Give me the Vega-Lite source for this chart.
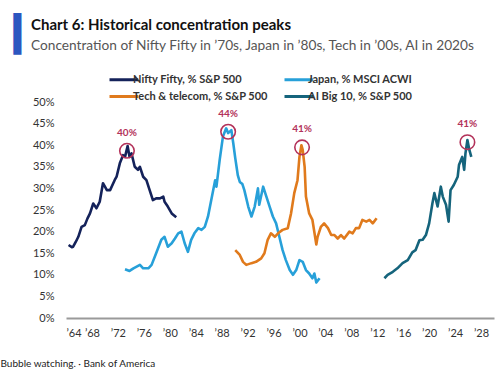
{
  "$schema": "https://vega.github.io/schema/vega-lite/v6.json",
  "width": 428,
  "height": 216,
  "autosize": {"type": "none"},
  "padding": {"left": 66, "top": 102, "right": 6, "bottom": 53},
  "background": "white",
  "title": {
    "text": "Chart 6: Historical concentration peaks",
    "subtitle": "Concentration of Nifty Fifty in ’70s, Japan in ’80s, Tech in ’00s, AI in 2020s",
    "anchor": "start",
    "frame": "group",
    "dx": -35,
    "offset": -36,
    "font": "Lato",
    "fontSize": 15,
    "fontWeight": "bold",
    "color": "#111111",
    "subtitleFont": "Lato",
    "subtitleFontSize": 13.7,
    "subtitleColor": "#555555",
    "subtitlePadding": 6
  },
  "datasets": {
    "series": [
      {"series": "Nifty Fifty, % S&P 500", "year": 1964.4, "value": 16.9},
      {"series": "Nifty Fifty, % S&P 500", "year": 1964.9, "value": 16.4},
      {"series": "Nifty Fifty, % S&P 500", "year": 1965.1, "value": 16.5},
      {"series": "Nifty Fifty, % S&P 500", "year": 1965.5, "value": 17.6},
      {"series": "Nifty Fifty, % S&P 500", "year": 1965.9, "value": 18.8},
      {"series": "Nifty Fifty, % S&P 500", "year": 1966.4, "value": 21.1},
      {"series": "Nifty Fifty, % S&P 500", "year": 1966.9, "value": 21.5},
      {"series": "Nifty Fifty, % S&P 500", "year": 1967.3, "value": 23.0},
      {"series": "Nifty Fifty, % S&P 500", "year": 1967.7, "value": 24.2},
      {"series": "Nifty Fifty, % S&P 500", "year": 1968.2, "value": 26.5},
      {"series": "Nifty Fifty, % S&P 500", "year": 1968.7, "value": 25.4},
      {"series": "Nifty Fifty, % S&P 500", "year": 1969.2, "value": 26.9},
      {"series": "Nifty Fifty, % S&P 500", "year": 1969.7, "value": 31.2},
      {"series": "Nifty Fifty, % S&P 500", "year": 1970.3, "value": 29.6},
      {"series": "Nifty Fifty, % S&P 500", "year": 1970.8, "value": 29.6},
      {"series": "Nifty Fifty, % S&P 500", "year": 1971.5, "value": 31.9},
      {"series": "Nifty Fifty, % S&P 500", "year": 1971.8, "value": 32.7},
      {"series": "Nifty Fifty, % S&P 500", "year": 1972.3, "value": 35.8},
      {"series": "Nifty Fifty, % S&P 500", "year": 1972.8, "value": 37.7},
      {"series": "Nifty Fifty, % S&P 500", "year": 1973.1, "value": 37.3},
      {"series": "Nifty Fifty, % S&P 500", "year": 1973.5, "value": 39.8},
      {"series": "Nifty Fifty, % S&P 500", "year": 1973.8, "value": 37.3},
      {"series": "Nifty Fifty, % S&P 500", "year": 1974.1, "value": 38.1},
      {"series": "Nifty Fifty, % S&P 500", "year": 1974.6, "value": 35.0},
      {"series": "Nifty Fifty, % S&P 500", "year": 1975.1, "value": 34.3},
      {"series": "Nifty Fifty, % S&P 500", "year": 1975.4, "value": 35.0},
      {"series": "Nifty Fifty, % S&P 500", "year": 1975.9, "value": 32.7},
      {"series": "Nifty Fifty, % S&P 500", "year": 1976.4, "value": 31.9},
      {"series": "Nifty Fifty, % S&P 500", "year": 1976.9, "value": 29.6},
      {"series": "Nifty Fifty, % S&P 500", "year": 1977.4, "value": 27.3},
      {"series": "Nifty Fifty, % S&P 500", "year": 1977.9, "value": 27.7},
      {"series": "Nifty Fifty, % S&P 500", "year": 1978.5, "value": 27.7},
      {"series": "Nifty Fifty, % S&P 500", "year": 1979.0, "value": 28.1},
      {"series": "Nifty Fifty, % S&P 500", "year": 1979.2, "value": 26.9},
      {"series": "Nifty Fifty, % S&P 500", "year": 1979.7, "value": 25.8},
      {"series": "Nifty Fifty, % S&P 500", "year": 1980.3, "value": 24.2},
      {"series": "Nifty Fifty, % S&P 500", "year": 1981.0, "value": 23.3},

      {"series": "Japan, % MSCI ACWI", "year": 1973.1, "value": 11.3},
      {"series": "Japan, % MSCI ACWI", "year": 1973.8, "value": 10.9},
      {"series": "Japan, % MSCI ACWI", "year": 1974.4, "value": 11.5},
      {"series": "Japan, % MSCI ACWI", "year": 1974.9, "value": 11.9},
      {"series": "Japan, % MSCI ACWI", "year": 1975.4, "value": 12.3},
      {"series": "Japan, % MSCI ACWI", "year": 1975.9, "value": 11.5},
      {"series": "Japan, % MSCI ACWI", "year": 1976.7, "value": 11.5},
      {"series": "Japan, % MSCI ACWI", "year": 1977.2, "value": 12.3},
      {"series": "Japan, % MSCI ACWI", "year": 1977.9, "value": 15.0},
      {"series": "Japan, % MSCI ACWI", "year": 1978.7, "value": 18.1},
      {"series": "Japan, % MSCI ACWI", "year": 1979.2, "value": 18.8},
      {"series": "Japan, % MSCI ACWI", "year": 1979.7, "value": 16.5},
      {"series": "Japan, % MSCI ACWI", "year": 1980.3, "value": 17.3},
      {"series": "Japan, % MSCI ACWI", "year": 1980.8, "value": 18.4},
      {"series": "Japan, % MSCI ACWI", "year": 1981.3, "value": 19.6},
      {"series": "Japan, % MSCI ACWI", "year": 1981.8, "value": 20.0},
      {"series": "Japan, % MSCI ACWI", "year": 1982.3, "value": 17.3},
      {"series": "Japan, % MSCI ACWI", "year": 1982.8, "value": 15.3},
      {"series": "Japan, % MSCI ACWI", "year": 1983.3, "value": 18.1},
      {"series": "Japan, % MSCI ACWI", "year": 1983.8, "value": 19.6},
      {"series": "Japan, % MSCI ACWI", "year": 1984.4, "value": 20.8},
      {"series": "Japan, % MSCI ACWI", "year": 1984.9, "value": 20.4},
      {"series": "Japan, % MSCI ACWI", "year": 1985.4, "value": 21.1},
      {"series": "Japan, % MSCI ACWI", "year": 1985.9, "value": 23.5},
      {"series": "Japan, % MSCI ACWI", "year": 1986.4, "value": 27.3},
      {"series": "Japan, % MSCI ACWI", "year": 1987.0, "value": 31.9},
      {"series": "Japan, % MSCI ACWI", "year": 1987.2, "value": 30.4},
      {"series": "Japan, % MSCI ACWI", "year": 1987.7, "value": 36.6},
      {"series": "Japan, % MSCI ACWI", "year": 1988.2, "value": 42.0},
      {"series": "Japan, % MSCI ACWI", "year": 1988.7, "value": 43.9},
      {"series": "Japan, % MSCI ACWI", "year": 1989.0, "value": 42.8},
      {"series": "Japan, % MSCI ACWI", "year": 1989.5, "value": 43.5},
      {"series": "Japan, % MSCI ACWI", "year": 1989.8, "value": 40.4},
      {"series": "Japan, % MSCI ACWI", "year": 1990.1, "value": 37.0},
      {"series": "Japan, % MSCI ACWI", "year": 1990.5, "value": 33.0},
      {"series": "Japan, % MSCI ACWI", "year": 1990.8, "value": 31.5},
      {"series": "Japan, % MSCI ACWI", "year": 1991.2, "value": 31.0},
      {"series": "Japan, % MSCI ACWI", "year": 1991.5, "value": 29.6},
      {"series": "Japan, % MSCI ACWI", "year": 1992.1, "value": 25.8},
      {"series": "Japan, % MSCI ACWI", "year": 1992.6, "value": 23.5},
      {"series": "Japan, % MSCI ACWI", "year": 1993.1, "value": 25.8},
      {"series": "Japan, % MSCI ACWI", "year": 1993.6, "value": 30.0},
      {"series": "Japan, % MSCI ACWI", "year": 1993.8, "value": 26.2},
      {"series": "Japan, % MSCI ACWI", "year": 1994.4, "value": 30.4},
      {"series": "Japan, % MSCI ACWI", "year": 1994.9, "value": 28.1},
      {"series": "Japan, % MSCI ACWI", "year": 1995.4, "value": 25.8},
      {"series": "Japan, % MSCI ACWI", "year": 1995.9, "value": 23.5},
      {"series": "Japan, % MSCI ACWI", "year": 1996.4, "value": 21.9},
      {"series": "Japan, % MSCI ACWI", "year": 1996.9, "value": 18.8},
      {"series": "Japan, % MSCI ACWI", "year": 1997.4, "value": 15.7},
      {"series": "Japan, % MSCI ACWI", "year": 1997.9, "value": 13.4},
      {"series": "Japan, % MSCI ACWI", "year": 1998.5, "value": 11.1},
      {"series": "Japan, % MSCI ACWI", "year": 1999.0, "value": 10.0},
      {"series": "Japan, % MSCI ACWI", "year": 1999.5, "value": 11.1},
      {"series": "Japan, % MSCI ACWI", "year": 2000.0, "value": 13.4},
      {"series": "Japan, % MSCI ACWI", "year": 2000.5, "value": 13.0},
      {"series": "Japan, % MSCI ACWI", "year": 2001.0, "value": 11.1},
      {"series": "Japan, % MSCI ACWI", "year": 2001.5, "value": 10.3},
      {"series": "Japan, % MSCI ACWI", "year": 2002.0, "value": 9.2},
      {"series": "Japan, % MSCI ACWI", "year": 2002.3, "value": 10.3},
      {"series": "Japan, % MSCI ACWI", "year": 2002.6, "value": 8.2},
      {"series": "Japan, % MSCI ACWI", "year": 2003.1, "value": 9.2},

      {"series": "Tech & telecom, % S&P 500", "year": 1990.1, "value": 15.7},
      {"series": "Tech & telecom, % S&P 500", "year": 1990.8, "value": 14.6},
      {"series": "Tech & telecom, % S&P 500", "year": 1991.3, "value": 13.0},
      {"series": "Tech & telecom, % S&P 500", "year": 1991.8, "value": 12.3},
      {"series": "Tech & telecom, % S&P 500", "year": 1992.6, "value": 12.7},
      {"series": "Tech & telecom, % S&P 500", "year": 1993.3, "value": 13.0},
      {"series": "Tech & telecom, % S&P 500", "year": 1994.1, "value": 13.8},
      {"series": "Tech & telecom, % S&P 500", "year": 1994.6, "value": 15.0},
      {"series": "Tech & telecom, % S&P 500", "year": 1995.1, "value": 18.1},
      {"series": "Tech & telecom, % S&P 500", "year": 1995.6, "value": 19.6},
      {"series": "Tech & telecom, % S&P 500", "year": 1996.2, "value": 18.8},
      {"series": "Tech & telecom, % S&P 500", "year": 1996.7, "value": 19.6},
      {"series": "Tech & telecom, % S&P 500", "year": 1997.4, "value": 20.4},
      {"series": "Tech & telecom, % S&P 500", "year": 1998.2, "value": 20.8},
      {"series": "Tech & telecom, % S&P 500", "year": 1998.7, "value": 24.2},
      {"series": "Tech & telecom, % S&P 500", "year": 1999.2, "value": 28.9},
      {"series": "Tech & telecom, % S&P 500", "year": 1999.7, "value": 31.9},
      {"series": "Tech & telecom, % S&P 500", "year": 2000.0, "value": 37.3},
      {"series": "Tech & telecom, % S&P 500", "year": 2000.3, "value": 40.0},
      {"series": "Tech & telecom, % S&P 500", "year": 2000.5, "value": 38.9},
      {"series": "Tech & telecom, % S&P 500", "year": 2000.8, "value": 35.0},
      {"series": "Tech & telecom, % S&P 500", "year": 2001.0, "value": 28.1},
      {"series": "Tech & telecom, % S&P 500", "year": 2001.5, "value": 24.2},
      {"series": "Tech & telecom, % S&P 500", "year": 2002.0, "value": 22.7},
      {"series": "Tech & telecom, % S&P 500", "year": 2002.6, "value": 17.0},
      {"series": "Tech & telecom, % S&P 500", "year": 2002.8, "value": 18.8},
      {"series": "Tech & telecom, % S&P 500", "year": 2003.3, "value": 21.1},
      {"series": "Tech & telecom, % S&P 500", "year": 2003.8, "value": 21.9},
      {"series": "Tech & telecom, % S&P 500", "year": 2004.4, "value": 20.8},
      {"series": "Tech & telecom, % S&P 500", "year": 2004.9, "value": 19.2},
      {"series": "Tech & telecom, % S&P 500", "year": 2005.4, "value": 19.2},
      {"series": "Tech & telecom, % S&P 500", "year": 2005.9, "value": 18.4},
      {"series": "Tech & telecom, % S&P 500", "year": 2006.4, "value": 19.2},
      {"series": "Tech & telecom, % S&P 500", "year": 2006.9, "value": 18.4},
      {"series": "Tech & telecom, % S&P 500", "year": 2007.7, "value": 20.0},
      {"series": "Tech & telecom, % S&P 500", "year": 2008.2, "value": 19.6},
      {"series": "Tech & telecom, % S&P 500", "year": 2008.7, "value": 20.8},
      {"series": "Tech & telecom, % S&P 500", "year": 2009.2, "value": 20.8},
      {"series": "Tech & telecom, % S&P 500", "year": 2009.7, "value": 22.7},
      {"series": "Tech & telecom, % S&P 500", "year": 2010.3, "value": 22.3},
      {"series": "Tech & telecom, % S&P 500", "year": 2010.8, "value": 22.7},
      {"series": "Tech & telecom, % S&P 500", "year": 2011.3, "value": 21.9},
      {"series": "Tech & telecom, % S&P 500", "year": 2011.9, "value": 23.1},

      {"series": "AI Big 10, % S&P 500", "year": 2013.1, "value": 9.2},
      {"series": "AI Big 10, % S&P 500", "year": 2013.6, "value": 10.0},
      {"series": "AI Big 10, % S&P 500", "year": 2014.4, "value": 10.7},
      {"series": "AI Big 10, % S&P 500", "year": 2015.1, "value": 11.5},
      {"series": "AI Big 10, % S&P 500", "year": 2015.9, "value": 12.7},
      {"series": "AI Big 10, % S&P 500", "year": 2016.7, "value": 13.4},
      {"series": "AI Big 10, % S&P 500", "year": 2017.4, "value": 15.2},
      {"series": "AI Big 10, % S&P 500", "year": 2017.9, "value": 15.7},
      {"series": "AI Big 10, % S&P 500", "year": 2018.5, "value": 18.0},
      {"series": "AI Big 10, % S&P 500", "year": 2019.0, "value": 18.1},
      {"series": "AI Big 10, % S&P 500", "year": 2019.5, "value": 19.2},
      {"series": "AI Big 10, % S&P 500", "year": 2020.0, "value": 21.9},
      {"series": "AI Big 10, % S&P 500", "year": 2020.5, "value": 26.5},
      {"series": "AI Big 10, % S&P 500", "year": 2020.8, "value": 28.9},
      {"series": "AI Big 10, % S&P 500", "year": 2021.3, "value": 25.8},
      {"series": "AI Big 10, % S&P 500", "year": 2021.8, "value": 30.4},
      {"series": "AI Big 10, % S&P 500", "year": 2022.1, "value": 28.1},
      {"series": "AI Big 10, % S&P 500", "year": 2022.6, "value": 26.2},
      {"series": "AI Big 10, % S&P 500", "year": 2023.0, "value": 22.3},
      {"series": "AI Big 10, % S&P 500", "year": 2023.3, "value": 29.6},
      {"series": "AI Big 10, % S&P 500", "year": 2023.8, "value": 30.8},
      {"series": "AI Big 10, % S&P 500", "year": 2024.4, "value": 32.7},
      {"series": "AI Big 10, % S&P 500", "year": 2024.6, "value": 35.4},
      {"series": "AI Big 10, % S&P 500", "year": 2025.1, "value": 37.3},
      {"series": "AI Big 10, % S&P 500", "year": 2025.4, "value": 34.3},
      {"series": "AI Big 10, % S&P 500", "year": 2025.6, "value": 38.1},
      {"series": "AI Big 10, % S&P 500", "year": 2025.9, "value": 41.2},
      {"series": "AI Big 10, % S&P 500", "year": 2026.2, "value": 38.9},
      {"series": "AI Big 10, % S&P 500", "year": 2026.5, "value": 37.3}
    ],
    "peaks": [
      {"year": 1973.4, "value": 38.7, "label": "40%"},
      {"year": 1989.0, "value": 43.1, "label": "44%"},
      {"year": 2000.4, "value": 39.5, "label": "41%"},
      {"year": 2025.9, "value": 40.7, "label": "41%"}
    ]
  },
  "encoding": {
    "x": {
      "field": "year", "type": "quantitative",
      "scale": {"domain": [1964, 2030], "nice": false, "zero": false},
      "axis": {
        "values": [1964, 1968, 1972, 1976, 1980, 1984, 1988, 1992, 1996, 2000, 2004, 2008, 2012, 2016, 2020, 2024, 2028],
        "labelExpr": "'’' + slice(format(datum.value, 'd'), 2)",
        "labelOverlap": false,
        "labelBound": false,
        "labelSeparation": 0,
        "title": "Bubble watching.  ·  Bank of America",
        "titleX": -66,
        "titleY": 45,
        "titleAlign": "left",
        "titleAnchor": null,
        "titleBaseline": "middle",
        "titleFont": "Lato",
        "titleFontSize": 10,
        "titleFontWeight": "normal",
        "titleColor": "#222222"
      }
    },
    "y": {
      "field": "value", "type": "quantitative",
      "scale": {"domain": [0, 50], "nice": false},
      "axis": {
        "values": [0, 5, 10, 15, 20, 25, 30, 35, 40, 45, 50],
        "labelExpr": "datum.value + '%'",
        "labelOverlap": false,
        "title": "▍",
        "titleAngle": 0,
        "titleX": -53,
        "titleY": -57,
        "titleAlign": "left",
        "titleBaseline": "alphabetic",
        "titleFont": "DejaVu Sans Mono",
        "titleFontSize": 35,
        "titleFontWeight": "normal",
        "titleColor": "#2c56c0"
      }
    }
  },
  "layer": [
    {
      "data": {"name": "series"},
      "mark": {"type": "line", "strokeWidth": 2.6, "strokeJoin": "round"},
      "encoding": {
        "color": {
          "field": "series", "type": "nominal",
          "scale": {
            "domain": ["Nifty Fifty, % S&P 500", "Japan, % MSCI ACWI", "Tech & telecom, % S&P 500", "AI Big 10, % S&P 500"],
            "range": ["#14225a", "#27a0d9", "#e07a1c", "#15647c"]
          },
          "legend": {
            "orient": "none",
            "direction": "horizontal",
            "legendX": 42,
            "legendY": -31,
            "columns": 2,
            "columnPadding": 10,
            "rowPadding": 2,
            "title": null,
            "symbolType": "M-1,0H3.1",
            "symbolSize": 196,
            "symbolStrokeWidth": 3,
            "labelOffset": 8,
            "labelFont": "Lato",
            "labelFontSize": 11,
            "labelFontWeight": "bold",
            "labelColor": "#333333",
            "labelLimit": 300
          }
        }
      }
    },
    {
      "data": {"name": "peaks"},
      "mark": {"type": "point", "filled": false, "size": 210, "stroke": "#b3325a", "strokeWidth": 1.6, "opacity": 1}
    },
    {
      "data": {"name": "peaks"},
      "mark": {"type": "text", "dy": -18, "color": "#b3325a", "font": "Lato", "fontSize": 10, "fontWeight": "bold"},
      "encoding": {
        "text": {"field": "label"}
      }
    }
  ],
  "config": {
    "view": {"stroke": null},
    "axis": {
      "grid": false,
      "ticks": false,
      "labelFont": "Lato",
      "labelFontSize": 11,
      "labelColor": "#333333"
    },
    "axisX": {"domain": true, "domainColor": "#9a9a9a", "domainWidth": 2, "labelPadding": 9, "labelOverlap": false},
    "axisY": {"domain": false, "labelPadding": 12}
  }
}
